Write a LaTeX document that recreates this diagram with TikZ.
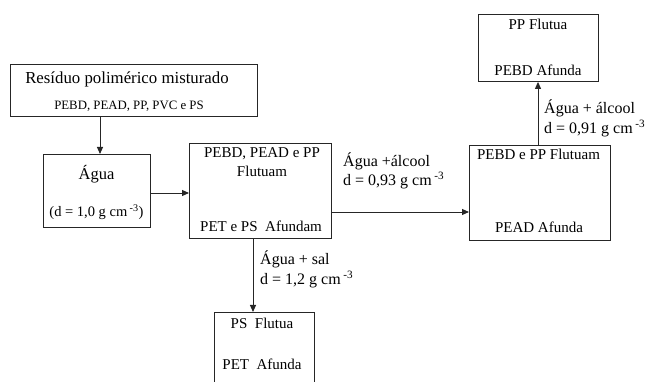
\documentclass[tikz,border=0pt]{standalone}
\usepackage{fontspec}
\setmainfont{Liberation Serif}
\usetikzlibrary{arrows.meta}
\tikzset{
  box/.style={draw=black!85, line width=0.9pt, rectangle, anchor=north west, inner sep=0pt},
  txt/.style={anchor=base, inner sep=0pt, font=\fontsize{15}{18}\selectfont},
  lbl/.style={anchor=base west, inner sep=0pt, font=\fontsize{16}{20}\selectfont},
  arr/.style={draw=black!85, line width=0.9pt, -{Triangle[length=7pt,width=6pt]}}
}
\newcommand{\cmm}{cm\,\textsuperscript{-3}}
\begin{document}
\begin{tikzpicture}[x=1pt,y=-1pt]
\clip (0,0) rectangle (649,382);
% boxes
\node[box, minimum width=247pt, minimum height=52pt] (box1) at (10,64) {};
\node[box, minimum width=107pt, minimum height=73pt] (agua) at (43,154) {};
\node[box, minimum width=142pt, minimum height=95pt] (bB) at (189,143) {};
\node[box, minimum width=141pt, minimum height=95pt] (bC) at (469,145) {};
\node[box, minimum width=120pt, minimum height=67pt] (bD) at (478,14) {};
\node[box, minimum width=100pt, minimum height=100pt] (bE) at (214,312) {};
% box texts
\node[txt, font=\fontsize{16.8}{20}\selectfont] (t1) at (127,84) {Resíduo polimérico misturado};
\node[txt, font=\fontsize{12.8}{15}\selectfont] (t2) at (129,110) {PEBD, PEAD, PP, PVC e PS};
\node[txt, font=\fontsize{16.5}{20}\selectfont] (t3) at (96.5,180) {Água};
\node[txt, font=\fontsize{14.5}{18}\selectfont] (t4) at (96.5,217) {(d = 1,0 g \cmm)};
\node[txt] (t5) at (262,158) {PEBD, PEAD e PP};
\node[txt] (t6) at (262,177) {Flutuam};
\node[txt] (t7) at (261,232) {PET e PS\ \ Afundam};
\node[txt] (t8) at (538.5,160) {PEBD e PP Flutuam};
\node[txt] (t9) at (539,233) {PEAD Afunda};
\node[txt] (t10) at (538,30) {PP Flutua};
\node[txt] (t11) at (538,76) {PEBD Afunda};
\node[txt] (t12) at (262,329) {PS\ \ Flutua};
\node[txt] (t13) at (262,370) {PET\ \ Afunda};
% labels
\node[lbl] (l1) at (343,167) {Água +álcool};
\node[lbl] (l2) at (343,186) {d = 0,93 g \cmm};
\node[lbl] (l3) at (544,114) {Água + álcool};
\node[lbl] (l4) at (544,134) {d = 0,91 g \cmm};
\node[lbl] (l5) at (260,265) {Água + sal};
\node[lbl] (l6) at (260,285) {d = 1,2 g \cmm};
% arrow positions
\coordinate (ax1) at (100,0);
\coordinate (ay2) at (0,193);
\coordinate (ay3) at (0,212);
\coordinate (ax4) at (538,0);
\coordinate (ax5) at (253,0);
\draw[arr] (box1.south -| ax1) -- (agua.north -| ax1);
\draw[arr] (agua.east |- ay2) -- (bB.west |- ay2);
\draw[arr] (bB.east |- ay3) -- (bC.west |- ay3);
\draw[arr] (bC.north -| ax4) -- (bD.south -| ax4);
\draw[arr] (bB.south -| ax5) -- (bE.north -| ax5);
\end{tikzpicture}
\end{document}
